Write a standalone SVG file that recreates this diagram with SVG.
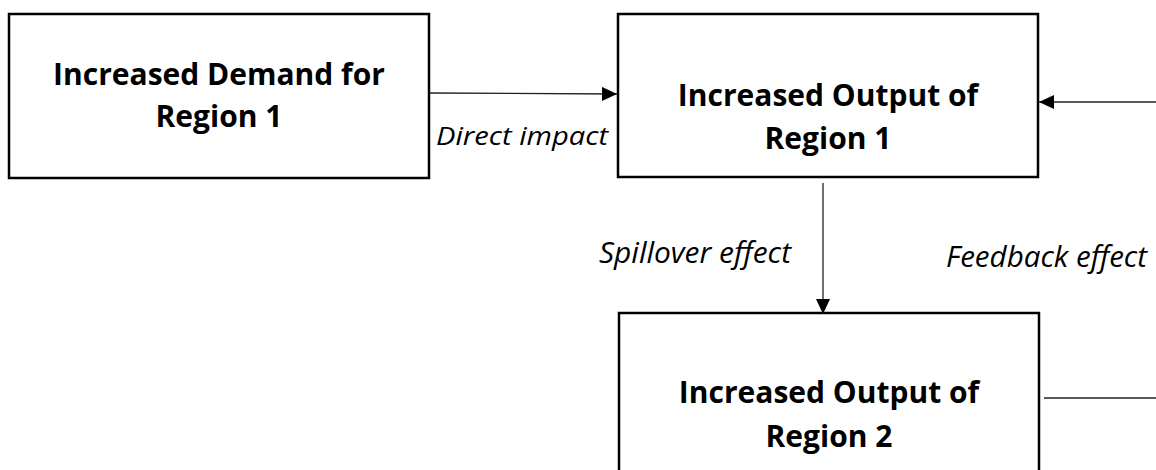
<svg xmlns="http://www.w3.org/2000/svg" width="1156" height="470" viewBox="0 0 1156 470">
<style>
.box{fill:#fff;stroke:#000;stroke-width:2.5}
.t{font-family:"Open Sans","Noto Sans","Liberation Sans",sans-serif;font-weight:bold;font-size:30px;fill:#000;text-anchor:middle}
.lbl{font-family:"Open Sans","Noto Sans","Liberation Sans",sans-serif;font-style:italic;fill:#000}
.c{stroke:#222;stroke-width:1.3;fill:none}
</style>
<defs>
<marker id="ah" markerUnits="userSpaceOnUse" markerWidth="16" markerHeight="14" refX="15" refY="7" orient="auto">
<path d="M0,0 L15,7 L0,14 Z" fill="#000"/>
</marker>
</defs>
<g id="n1">
<rect class="box" x="9" y="14" width="420" height="164"/>
<text class="t" x="219" y="85">Increased Demand for</text>
<text class="t" x="219" y="127">Region 1</text>
</g>
<g id="n2">
<rect class="box" x="618" y="14" width="420" height="163"/>
<text class="t" x="828" y="106">Increased Output of</text>
<text class="t" x="828" y="149">Region 1</text>
</g>
<g id="n3">
<rect class="box" x="619" y="313" width="420" height="180"/>
<text class="t" x="829" y="403">Increased Output of</text>
<text class="t" x="829" y="447">Region 2</text>
</g>
<g id="connectors">
<line class="c" x1="430" y1="93" x2="617" y2="94" marker-end="url(#ah)"/>
<line class="c" x1="823" y1="183" x2="823" y2="314" marker-end="url(#ah)"/>
<line class="c" x1="1156" y1="102" x2="1039" y2="102" marker-end="url(#ah)"/>
<line class="c" x1="1044" y1="398" x2="1156" y2="398"/>
<text class="lbl" x="436" y="145" font-size="25" textLength="172" lengthAdjust="spacingAndGlyphs">Direct impact</text>
<text class="lbl" x="599" y="263" font-size="29" textLength="192" lengthAdjust="spacingAndGlyphs">Spillover effect</text>
<text class="lbl" x="946" y="267" font-size="29" textLength="201" lengthAdjust="spacingAndGlyphs">Feedback effect</text>
</g>
</svg>
